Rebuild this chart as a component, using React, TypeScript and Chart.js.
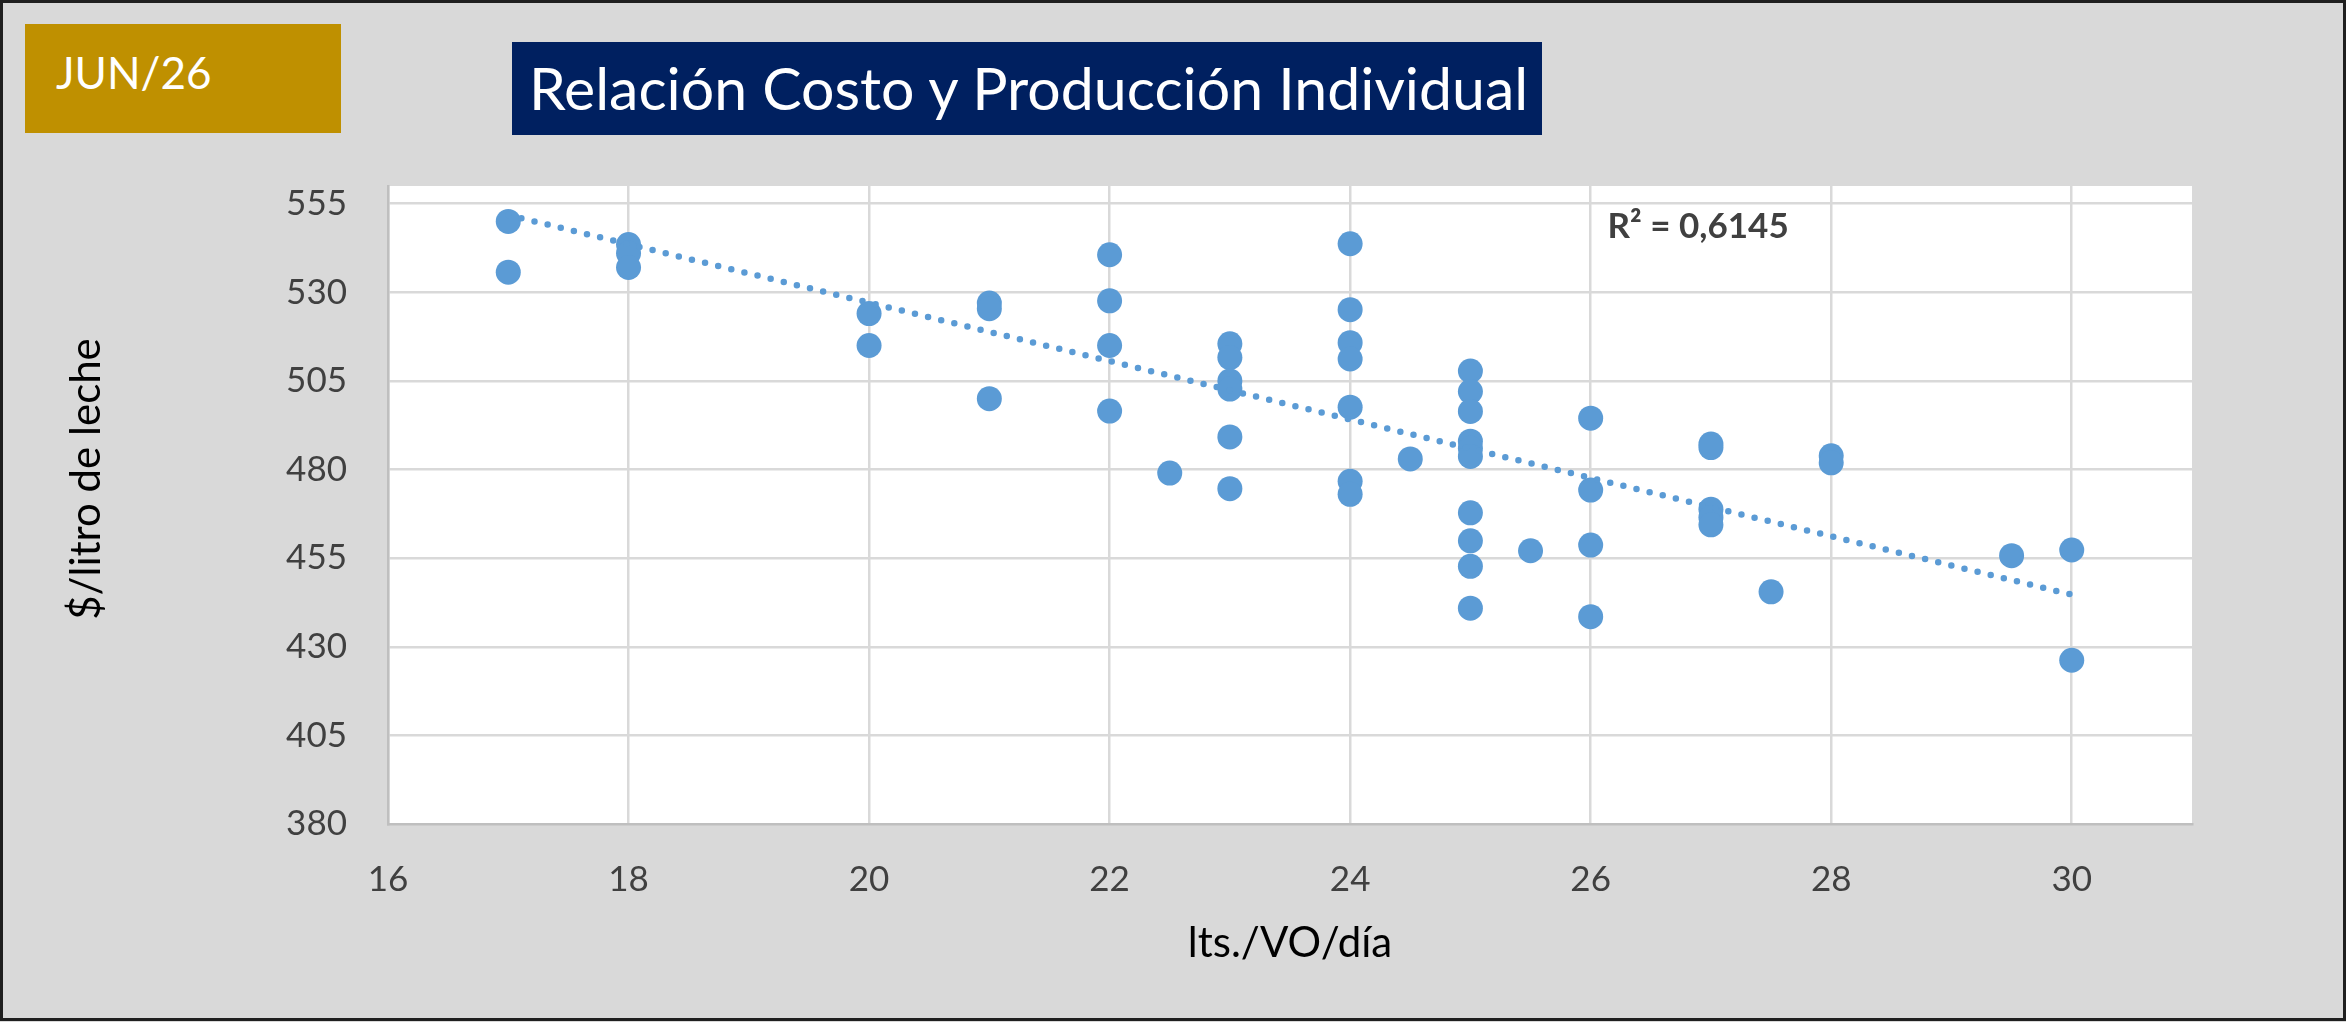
import { useEffect, useRef } from "react";
import { Chart, registerables } from "chart.js";

Chart.register(...registerables);

// lts./VO/día de cada tambo y su costo por litro
const litrosVO = [
  17, 17,
  18, 18, 18,
  20, 20,
  21, 21, 21,
  22, 22, 22, 22,
  22.5,
  23, 23, 23, 23, 23, 23,
  24, 24, 24, 24, 24, 24, 24,
  24.5,
  25, 25, 25, 25, 25, 25, 25, 25, 25, 25,
  25.5,
  26, 26, 26, 26,
  27, 27, 27, 27, 27,
  27.5,
  28, 28,
  29.5,
  30, 30,
];
const costoLitro = [
  550, 535.7,
  543.5, 541, 537,
  524, 515,
  527, 525.4, 500,
  540.6, 527.6, 515, 496.5,
  479,
  515.5, 511.6, 505, 502.7, 489.2, 474.6,
  543.7, 525.1, 515.8, 511.2, 497.6, 476.7, 473,
  483,
  507.8, 502, 496.4, 488, 486, 483.7, 467.8, 459.9, 452.7, 440.9,
  457.1,
  494.5, 474.2, 458.7, 438.5,
  487.2, 486.2, 468.8, 466.5, 464.4,
  445.5,
  483.9, 481.9,
  455.7,
  457.3, 426.2,
];

// tendencia lineal (extremos)
const trendX = [17, 30];
const trendY = [551.8, 444.7];

const xTicks = [16, 18, 20, 22, 24, 26, 28, 30];
const yTicks = [380, 405, 430, 455, 480, 505, 530, 555];

const PERIODO = "JUN/26";
const TITULO = "Relación Costo y Producción Individual";
const X_TITLE = "lts./VO/día";
const Y_TITLE = "$/litro de leche";
const R2_TEXT = "R² = 0,6145";

const BLUE = "#5b9bd5";
const R2_POS = { x: 26.14, y: 545.4 };

Chart.defaults.font.family = "Lato";

const plotBackground = {
  id: "plotBackground",
  beforeDraw(chart: any) {
    const { ctx, chartArea: a } = chart;
    ctx.save();
    ctx.fillStyle = "#ffffff";
    ctx.fillRect(a.left, a.top, a.right - a.left, a.bottom - a.top);
    ctx.restore();
  },
};

const extraText = {
  id: "extraText",
  afterDraw(chart: any) {
    const { ctx, scales } = chart;
    ctx.save();
    ctx.fillStyle = "#000000";
    ctx.font = "42px Lato";
    ctx.translate(86, 479);
    ctx.rotate(-Math.PI / 2);
    ctx.textAlign = "center";
    ctx.textBaseline = "middle";
    ctx.fillText(Y_TITLE, 0, 0);
    ctx.restore();

    ctx.save();
    ctx.fillStyle = "#404040";
    ctx.font = "bold 35px Lato";
    ctx.textAlign = "left";
    ctx.textBaseline = "alphabetic";
    ctx.fillText(R2_TEXT, scales.x.getPixelForValue(R2_POS.x), scales.y.getPixelForValue(R2_POS.y));
    ctx.restore();
  },
};

const CostChart = () => {
  const canvasRef = useRef<HTMLCanvasElement>(null);
  const chartRef = useRef<Chart | null>(null);

  useEffect(() => {
    if (!canvasRef.current) return;
    if (chartRef.current) chartRef.current.destroy();

    const points = litrosVO.map((x, i) => ({ x, y: costoLitro[i] }));
    const trend = trendX.map((x, i) => ({ x, y: trendY[i] }));

    chartRef.current = new Chart(canvasRef.current, {
      type: "scatter",
      data: {
        datasets: [
          {
            data: trend,
            showLine: true,
            borderColor: BLUE,
            borderWidth: 6.5,
            borderDash: [0, 13.5],
            borderCapStyle: "round",
            pointRadius: 0,
            order: 0,
          },
          {
            data: points,
            backgroundColor: BLUE,
            borderWidth: 0,
            pointRadius: 12.5,
            order: 1,
          },
        ],
      },
      options: {
        animation: false,
        responsive: true,
        maintainAspectRatio: false,
        layout: { padding: { left: 0, right: 154, top: 186, bottom: 0 } },
        plugins: {
          legend: { display: false },
          tooltip: { enabled: false },
        },
        scales: {
          x: {
            type: "linear",
            min: 16,
            max: 31,
            afterBuildTicks: (axis: any) => {
              axis.ticks = xTicks.map((value) => ({ value }));
            },
            afterFit: (scale: any) => {
              scale.height = 198;
            },
            ticks: {
              color: "#404040",
              font: { size: 35 },
              padding: 35,
            },
            grid: { color: "#d9d9d9", lineWidth: 2.5, drawTicks: false },
            border: { color: "#bfbfbf", width: 2.5 },
            title: {
              display: true,
              text: X_TITLE,
              color: "#000000",
              font: { size: 42 },
              padding: { top: 0, bottom: 53 },
            },
          },
          y: {
            type: "linear",
            min: 380,
            max: 560,
            afterBuildTicks: (axis: any) => {
              axis.ticks = yTicks.map((value) => ({ value }));
            },
            afterFit: (scale: any) => {
              scale.width = 388;
            },
            ticks: {
              color: "#404040",
              font: { size: 35 },
              padding: 41,
            },
            grid: { color: "#d9d9d9", lineWidth: 2.5, drawTicks: false },
            border: { color: "#bfbfbf", width: 2.5 },
          },
        },
      },
      plugins: [plotBackground, extraText],
    });

    return () => {
      if (chartRef.current) {
        chartRef.current.destroy();
        chartRef.current = null;
      }
    };
  }, []);

  return (
    <div style={{ position: "absolute", left: 0, top: 0, width: 2346, height: 1022 }}>
      <canvas ref={canvasRef} />
    </div>
  );
};

const App = () => {
  return (
    <div
      style={{
        position: "absolute",
        left: 0,
        top: 0,
        width: 2346,
        height: 1022,
        background: "#d9d9d9",
        fontFamily: "Lato, sans-serif",
        overflow: "hidden",
      }}
    >
      <CostChart />
      <div
        style={{
          position: "absolute",
          left: 25,
          top: 24,
          width: 316,
          height: 109,
          background: "#bf9000",
        }}
      >
        <span
          style={{
            position: "absolute",
            left: 31,
            top: 26,
            fontSize: 44,
            lineHeight: "44px",
            color: "#ffffff",
            whiteSpace: "nowrap",
          }}
        >
          {PERIODO}
        </span>
      </div>
      <div
        style={{
          position: "absolute",
          left: 512,
          top: 42,
          width: 1030,
          height: 93,
          background: "#002060",
        }}
      >
        <span
          style={{
            position: "absolute",
            left: 17,
            top: 16,
            fontSize: 59,
            lineHeight: "59px",
            color: "#ffffff",
            whiteSpace: "nowrap",
          }}
        >
          {TITULO}
        </span>
      </div>
      <div
        style={{
          position: "absolute",
          left: 0,
          top: 0,
          width: 2346,
          height: 1021,
          boxSizing: "border-box",
          border: "3px solid #1f1f1f",
          pointerEvents: "none",
        }}
      />
    </div>
  );
};

export default App;
